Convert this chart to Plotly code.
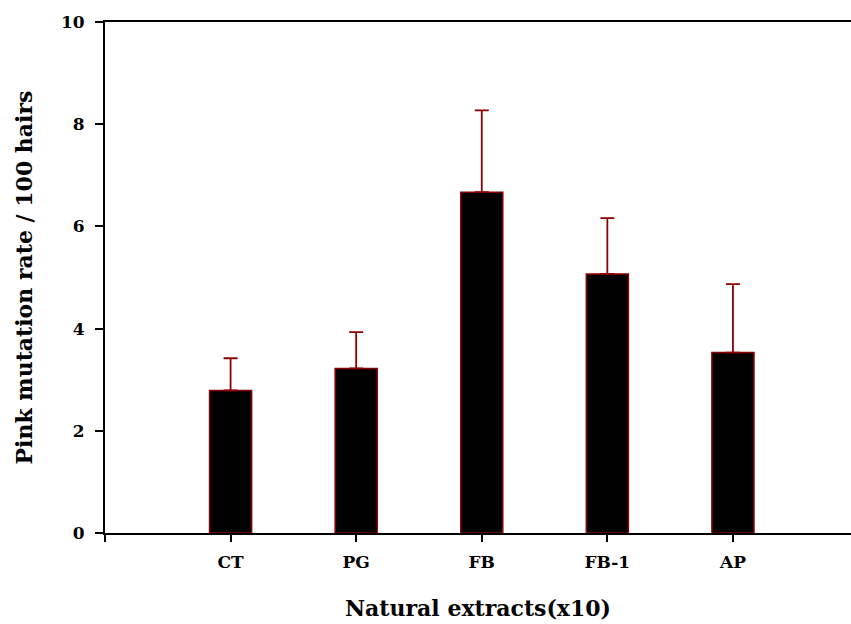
import plotly.graph_objects as go

categories = ["CT", "PG", "FB", "FB-1", "AP"]
means = [2.79, 3.22, 6.67, 5.07, 3.53]
errors = [0.63, 0.71, 1.60, 1.09, 1.34]
y_ticks = [0, 2, 4, 6, 8, 10]

x_pos = list(range(len(categories)))
FONT = "DejaVu Serif"
DARKRED = "#8b0000"

fig = go.Figure()
fig.add_trace(go.Bar(
    x=x_pos, y=means, width=0.335,
    marker=dict(color="black", line=dict(color=DARKRED, width=1.5)),
    error_y=dict(type="data", symmetric=False, array=errors,
                 arrayminus=[0] * len(errors),
                 color=DARKRED, thickness=1.8, width=7),
    showlegend=False,
))

fig.update_layout(
    width=851, height=624,
    margin=dict(l=105, r=0, t=22, b=91),
    plot_bgcolor="white", paper_bgcolor="white",
    font=dict(family=FONT, color="black"),
    xaxis=dict(
        range=[-1, 4.94], automargin=False,
        tickvals=[-1] + x_pos, ticktext=[""] + categories,
        showline=True, linecolor="black", linewidth=2, mirror=True,
        ticks="outside", ticklen=7, tickwidth=1.5, tickcolor="black",
        ticklabelstandoff=6,
        showgrid=False, zeroline=False,
        tickfont=dict(family=FONT, size=17, color="black", weight="bold"),
        title=dict(text="<b>Natural extracts(x10)</b>",
                   font=dict(family=FONT, size=22, color="black"), standoff=29),
    ),
    yaxis=dict(
        range=[0, 10], tickvals=y_ticks, automargin=False,
        showline=True, linecolor="black", linewidth=2,
        ticks="outside", ticklen=8, tickwidth=1.5, tickcolor="black",
        ticklabelstandoff=7,
        showgrid=False, zeroline=False,
        tickfont=dict(family=FONT, size=17, color="black", weight="bold"),
        title=dict(text="<b>Pink mutation rate / 100 hairs</b>",
                   font=dict(family=FONT, size=22, color="black"), standoff=22),
    ),
)

fig.write_html(
    "out.html",
    config={"displayModeBar": False},
    post_script="document.body.style.margin='0px';document.body.style.overflow='hidden';",
)
